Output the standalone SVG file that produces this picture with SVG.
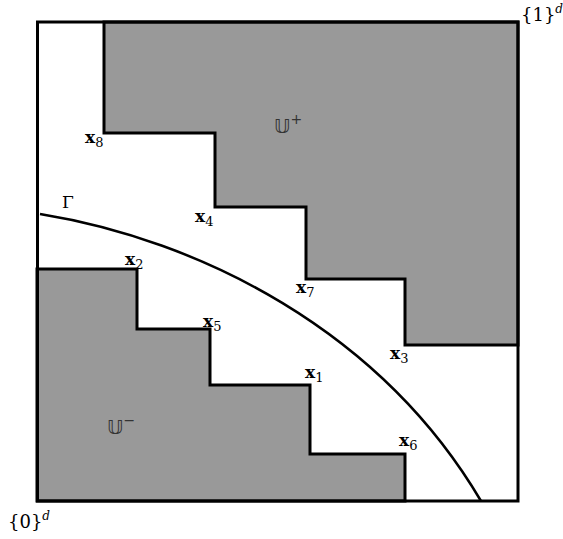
<svg xmlns="http://www.w3.org/2000/svg" width="563" height="539" viewBox="0 0 563 539">
<style>
.reg{fill:#999999;stroke:#000;stroke-width:3;stroke-linejoin:miter}
.lbl{font-family:"DejaVu Serif","Liberation Serif",serif;font-size:17px;fill:#000}
.bx{font-weight:bold}
.sub{font-size:13px}
.cor{font-family:"DejaVu Serif","Liberation Serif",serif;font-size:18px;fill:#000}
.sup{font-size:12px;font-style:italic}
.bb{font-family:"DejaVu Sans","DejaVu Serif",sans-serif;font-size:20px;fill:#333}
</style>
<rect x="0" y="0" width="563" height="539" fill="#fff"/>
<g id="U-plus">
<polygon class="reg" points="104,22 518,22 518,345 405,345 405,279 306,279 306,207 215,207 215,133 104,133"/>
<text class="bb" x="274" y="133">𝕌<tspan font-size="14" dy="-9">+</tspan></text>
</g>
<g id="U-minus">
<polygon class="reg" points="37,269 137,269 137,329 210,329 210,385 310,385 310,454 405,454 405,501 37,501"/>
<text class="bb" x="107" y="434">𝕌<tspan font-size="14" dy="-9">−</tspan></text>
</g>
<g id="gamma">
<path d="M40,214 C200,240 380,330 481,501" fill="none" stroke="#000" stroke-width="2.5"/>
<text class="lbl" x="62" y="208" font-size="19">Γ</text>
</g>
<g id="box">
<rect x="37.5" y="22" width="480.5" height="479" fill="none" stroke="#000" stroke-width="3"/>
</g>
<g id="labels">
<text class="lbl" x="85" y="143"><tspan class="bx">x</tspan><tspan class="sub" dy="4">8</tspan></text>
<text class="lbl" x="195" y="222"><tspan class="bx">x</tspan><tspan class="sub" dy="4">4</tspan></text>
<text class="lbl" x="125" y="265"><tspan class="bx">x</tspan><tspan class="sub" dy="4">2</tspan></text>
<text class="lbl" x="203" y="327"><tspan class="bx">x</tspan><tspan class="sub" dy="4">5</tspan></text>
<text class="lbl" x="296" y="293"><tspan class="bx">x</tspan><tspan class="sub" dy="4">7</tspan></text>
<text class="lbl" x="390" y="359"><tspan class="bx">x</tspan><tspan class="sub" dy="4">3</tspan></text>
<text class="lbl" x="305" y="378"><tspan class="bx">x</tspan><tspan class="sub" dy="4">1</tspan></text>
<text class="lbl" x="399" y="446"><tspan class="bx">x</tspan><tspan class="sub" dy="4">6</tspan></text>
<text class="cor" x="521" y="21">{1}<tspan class="sup" dy="-8">d</tspan></text>
<text class="cor" x="8" y="528">{0}<tspan class="sup" dy="-8">d</tspan></text>
</g>
</svg>
